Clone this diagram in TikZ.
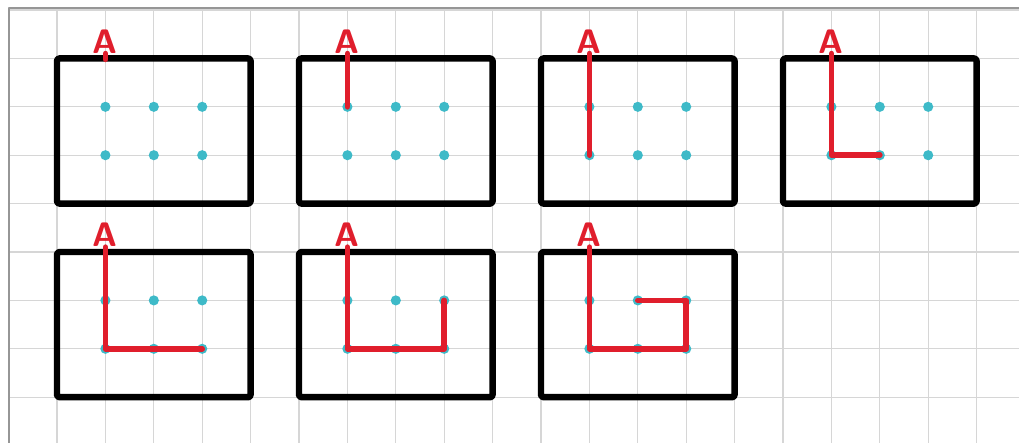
\documentclass[tikz,border=0pt]{standalone}
\usepackage{tikz}
\usetikzlibrary{calc}
\definecolor{penred}{RGB}{224,30,44}
\definecolor{dotcyan}{RGB}{62,186,200}
\definecolor{gridgray}{RGB}{214,214,214}
\definecolor{rimgray}{RGB}{150,150,150}

\begin{document}
\begin{tikzpicture}[line join=round, line cap=round,
  frame/.style={line width=3.8pt, rounded corners=1.5pt},
  pen/.style={draw=penred, line width=3.3pt},
  dot/.style={circle, fill=dotcyan, inner sep=0pt, minimum size=0.21cm},
  lab/.style={text=penred, font=\sffamily\bfseries\fontsize{20}{20}\selectfont, inner sep=0pt, anchor=south}]
\useasboundingbox (-1.178,-7.946) rectangle (19.876,1.207);
\begin{scope}
\clip (-0.99,-7.946) rectangle (19.876,1.04);
\draw[gridgray, line width=0.8pt] (-1,-8) grid (20,1);
\end{scope}
\draw[rimgray, line width=1.2pt] (-0.99,-7.946) -- (-0.99,1.04) -- (19.876,1.04);
% seven frames with their dots
\foreach \n/\x/\y in {1/0/0, 2/5/0, 3/10/0, 4/15/0, 5/0/-4, 6/5/-4, 7/10/-4} {
  \draw[frame] (\x,\y) rectangle ++(4,-3);
  \foreach \i in {1,2,3} \foreach \j in {1,2}
    \node[dot] (d\n\i\j) at (\x+\i,\y-\j) {};
  \node[lab] (A\n) at (\x+1,\y+0.1) {A};
}
% the red route, one step longer in each frame
\coordinate (s1) at (1,-0.02);
\draw[pen] (A1.south) -- (s1);
\draw[pen] (A2.south) -- (d211.center);
\draw[pen] (A3.south) -- (d312.center);
\draw[pen] (A4.south) -- (d412.center) -- (d422.center);
\draw[pen] (A5.south) -- (d512.center) -- (d532.center);
\draw[pen] (A6.south) -- (d612.center) -- (d632.center) -- (d631.center);
\draw[pen] (A7.south) -- (d712.center) -- (d732.center) -- (d731.center) -- (d721.center);
\end{tikzpicture}
\end{document}
